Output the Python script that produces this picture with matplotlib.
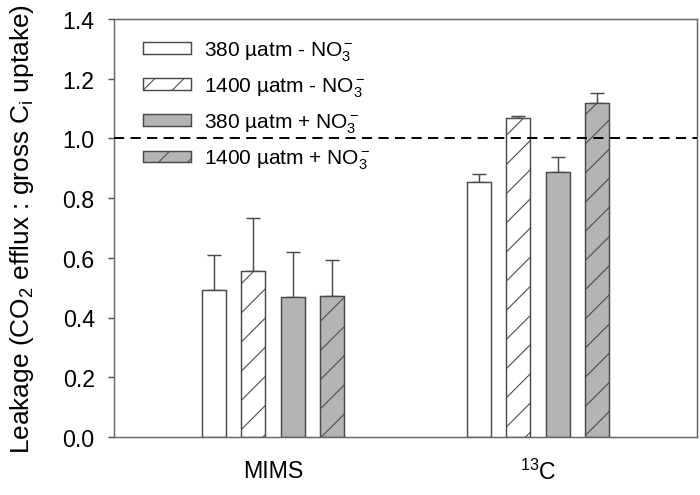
import numpy as np
import matplotlib
matplotlib.use("Agg")
import matplotlib.pyplot as plt

plt.rcParams['font.family'] = ['Liberation Sans', 'DejaVu Sans']
plt.rcParams['mathtext.fontset'] = 'custom'
plt.rcParams['mathtext.rm'] = 'Liberation Sans'
plt.rcParams['mathtext.it'] = 'Liberation Sans:italic'
plt.rcParams['mathtext.default'] = 'regular'
plt.rcParams['hatch.linewidth'] = 0.45
plt.rcParams['lines.scale_dashes'] = False

# data
methods = ['MIMS', '$^{13}$C']
treatments = ['380 µatm - NO$_3^-$', '1400 µatm - NO$_3^-$',
              '380 µatm + NO$_3^-$', '1400 µatm + NO$_3^-$']
leakage = {
    '380 µatm - NO$_3^-$': [0.492, 0.855],
    '1400 µatm - NO$_3^-$': [0.557, 1.067],
    '380 µatm + NO$_3^-$': [0.468, 0.888],
    '1400 µatm + NO$_3^-$': [0.473, 1.118],
}
leakage_err = {
    '380 µatm - NO$_3^-$': [0.118, 0.027],
    '1400 µatm - NO$_3^-$': [0.176, 0.008],
    '380 µatm + NO$_3^-$': [0.152, 0.049],
    '1400 µatm + NO$_3^-$': [0.121, 0.034],
}
fills = ['white', 'white', '#b4b4b4', '#b4b4b4']
hatches = ['', '//', '', '//']

edge = '#4a4a4a'
fig = plt.figure(figsize=(4.0, 2.834), dpi=175)
ax = fig.add_axes([0.163, 0.117, 0.833, 0.843])

x = np.array([1.0, 2.0])
step = 0.149
width = 0.09
for i, t in enumerate(treatments):
    pos = x + (i - 1.5) * step
    ax.bar(pos, leakage[t], width, color=fills[i], edgecolor=edge,
           hatch=hatches[i], linewidth=0.6, label=t, zorder=2)
    ax.errorbar(pos, leakage[t], yerr=[np.zeros(2), leakage_err[t]],
                fmt='none', ecolor=edge, elinewidth=0.6, capsize=2.7,
                capthick=0.6, zorder=1)

ax.axhline(1.0, color='black', lw=0.8, dashes=(4.2, 2.6), zorder=3)

ax.set_xlim(0.4, 2.6)
ax.set_ylim(0, 1.4)
ax.set_yticks(np.arange(0, 1.41, 0.2))
ax.set_yticklabels(['%.1f' % v for v in np.arange(0, 1.41, 0.2)])
ax.set_xticks(x)
ax.set_xticklabels(methods)
ax.tick_params(axis='y', direction='out', length=2.5, width=0.6,
               color='#555555', pad=5.5, labelsize=9.5)
ax.tick_params(axis='x', length=0, pad=9, labelsize=9.5)
for s in ax.spines.values():
    s.set_color('#666666')
    s.set_linewidth(0.6)

ax.set_ylabel('Leakage (CO$_2$ efflux : gross C$_\\mathrm{i}$ uptake)',
              fontsize=10.8, labelpad=11)

ax.legend(loc='upper left', bbox_to_anchor=(0.05, 0.95), frameon=False,
          fontsize=8.6, borderpad=0, borderaxespad=0, handlelength=2.3,
          handleheight=0.5, handletextpad=0.6, labelspacing=0.6)

fig.savefig('out.png', dpi=175)
